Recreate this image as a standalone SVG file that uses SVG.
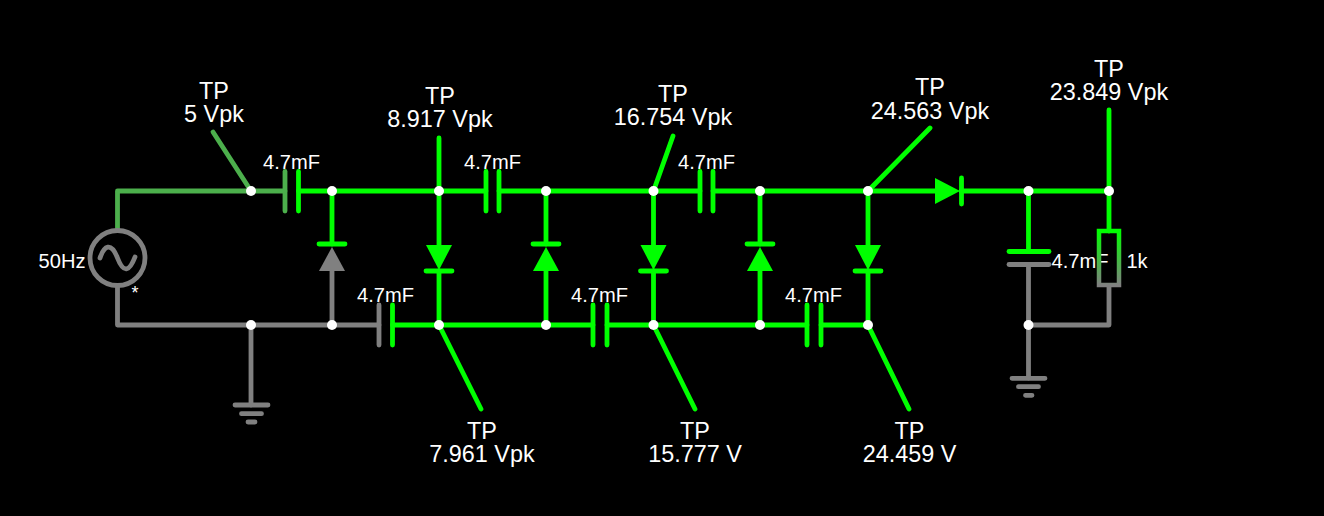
<svg xmlns="http://www.w3.org/2000/svg" width="1324" height="516" viewBox="0 0 1324 516">
<style>
.w{fill:none;stroke-width:4.8;stroke-linecap:round;stroke-linejoin:round}
.g{stroke:#0f0}.d{stroke:#4caf4c}.a{stroke:#808080}
.fg{fill:#0f0}.fa{fill:#808080}
.j{fill:#fff}
text{font-family:"Liberation Sans",Arial,sans-serif;fill:#fff;text-anchor:middle}
.t{font-size:23.4px}.s{font-size:20.1px}
</style>
<defs>
<linearGradient id="rg" gradientUnits="userSpaceOnUse" x1="0" y1="231" x2="0" y2="285"><stop offset="0" stop-color="#0f0"/><stop offset="1" stop-color="#808080"/></linearGradient>
</defs>
<rect width="1324" height="516" fill="#000"/>
<g id="connectors">
<path class="w d" d="M117.500 229V191H285"/>
<path class="w a" d="M117.500 287V325H379"/>
<path class="w g" d="M298.500 191H486M499 191H700M713 191H935M961 191H1109"/>
<path class="w g" d="M392.500 325H593M607 325H807M821 325H868"/>
<path class="w g" d="M332 191V244M439 138V245M439 271V325M546 191V244M546 271V325M653.500 191V245M653.500 271V325M760 191V244M760 271V325M868 191V245M868 271V325M1028.500 191V251M1109 110V231"/>
<path class="w a" d="M332 271V325M251 325V405M1028.500 265V378M1109 287V325H1028.500"/>
<path class="w d" d="M251 191L213 132"/>
<path class="w g" d="M653.500 191L673 136M868 191L930 128M439 325L481 409M653.500 325L695 409M868 325L909 409"/>
</g>
<g id="source"><circle class="w a" cx="117.500" cy="258" r="27.500"/><path class="w a" d="M100 258C104 246 111 241 117.500 258S130 270 135 257"/><text class="s" x="62" y="268">50Hz</text><text x="135" y="299" style="font-size:18px">*</text></g>
<g id="c1"><path class="w d" d="M285 171.500V211"/><path class="w g" d="M298.500 171.500V211"/><text class="s" x="291.500" y="169">4.7mF</text></g>
<g id="c2"><path class="w a" d="M379 305V345"/><path class="w g" d="M392.500 305V345"/><text class="s" x="385.500" y="302">4.7mF</text></g>
<g id="c3"><path class="w g" d="M486 171.500V211M499 171.500V211"/><text class="s" x="492.500" y="169">4.7mF</text></g>
<g id="c4"><path class="w g" d="M593 305V345M607 305V345"/><text class="s" x="599.500" y="302">4.7mF</text></g>
<g id="c5"><path class="w g" d="M700 171.500V211M713 171.500V211"/><text class="s" x="706.500" y="169">4.7mF</text></g>
<g id="c6"><path class="w g" d="M807 305V345M821 305V345"/><text class="s" x="813.500" y="302">4.7mF</text></g>
<g id="c7"><path class="w g" d="M1009 251.500H1049"/><path class="w a" d="M1009 264.500H1049"/><text class="s" x="1080" y="268">4.7mF</text></g>
<g id="d1"><path class="w g" d="M319 244H345"/><path class="fa" d="M332 247L345 271H319Z"/></g>
<g id="d2"><path class="w g" d="M426 271H452"/><path class="fg" d="M426 245H452L439 270Z"/></g>
<g id="d3"><path class="w g" d="M533 244H559"/><path class="fg" d="M546 247L559 271H533Z"/></g>
<g id="d4"><path class="w g" d="M640.500 271H666.500"/><path class="fg" d="M640.500 245H666.500L653.500 270Z"/></g>
<g id="d5"><path class="w g" d="M747 244H773"/><path class="fg" d="M760 247L773 271H747Z"/></g>
<g id="d6"><path class="w g" d="M855 271H881"/><path class="fg" d="M855 245H881L868 270Z"/></g>
<g id="d7"><path class="w g" d="M961.500 178V204"/><path class="fg" d="M935 178V204L960 191Z"/></g>
<g id="r1"><rect x="1099" y="231" width="20" height="54" fill="none" stroke="url(#rg)" stroke-width="4.500"/><text class="s" x="1137" y="268">1k</text></g>
<g id="gnd1"><path class="w a" d="M235 405H268M241.500 413.700H261.500M248 422H255"/></g>
<g id="gnd2"><path class="w a" d="M1012 378.300H1045M1018.500 386.700H1038.500M1025.500 395.300H1032"/></g>
<g id="junctions">
<circle class="j" cx="251" cy="191" r="5"/><circle class="j" cx="332" cy="191" r="5"/><circle class="j" cx="439" cy="191" r="5"/><circle class="j" cx="546" cy="191" r="5"/><circle class="j" cx="653.500" cy="191" r="5"/><circle class="j" cx="760" cy="191" r="5"/><circle class="j" cx="868" cy="191" r="5"/><circle class="j" cx="1028.500" cy="191" r="5"/><circle class="j" cx="1109" cy="191" r="5"/>
<circle class="j" cx="251" cy="325" r="5"/><circle class="j" cx="332" cy="325" r="5"/><circle class="j" cx="439" cy="325" r="5"/><circle class="j" cx="546" cy="325" r="5"/><circle class="j" cx="653.500" cy="325" r="5"/><circle class="j" cx="760" cy="325" r="5"/><circle class="j" cx="868" cy="325" r="5"/><circle class="j" cx="1028.500" cy="325" r="5"/>
</g>
<g id="tp1"><text class="t" x="214" y="99">TP</text><text class="t" x="214" y="122">5 Vpk</text></g>
<g id="tp2"><text class="t" x="440" y="104">TP</text><text class="t" x="440" y="127">8.917 Vpk</text></g>
<g id="tp3"><text class="t" x="673" y="102">TP</text><text class="t" x="673" y="125">16.754 Vpk</text></g>
<g id="tp4"><text class="t" x="930" y="95">TP</text><text class="t" x="930" y="119">24.563 Vpk</text></g>
<g id="tp5"><text class="t" x="1109" y="77">TP</text><text class="t" x="1109" y="100">23.849 Vpk</text></g>
<g id="tp6"><text class="t" x="482" y="439">TP</text><text class="t" x="482" y="462">7.961 Vpk</text></g>
<g id="tp7"><text class="t" x="695" y="439">TP</text><text class="t" x="695" y="462">15.777 V</text></g>
<g id="tp8"><text class="t" x="909.500" y="439">TP</text><text class="t" x="909.500" y="462">24.459 V</text></g>
</svg>
